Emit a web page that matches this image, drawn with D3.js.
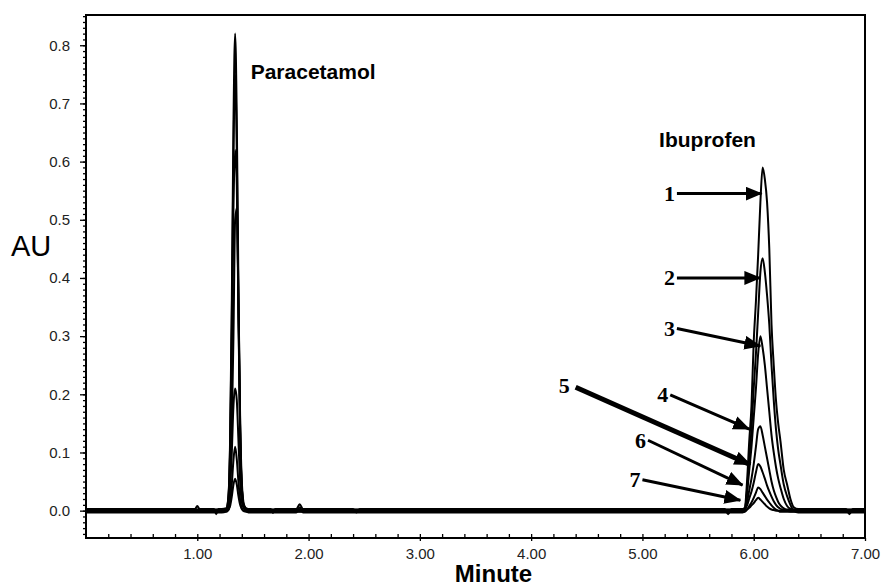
<!DOCTYPE html>
<html>
<head>
<meta charset="utf-8">
<script src="https://cdn.jsdelivr.net/npm/d3@7"></script>
<style>
  body { margin: 0; background: #fff; }
  svg { display: block; }
</style>
</head>
<body>
<script>
// retention time grid (minutes), shared by all seven chromatograms
const minutes = [
  0.00, 0.98, 1.00, 1.02, 1.15, 1.17, 1.19,
  1.22, 1.26, 1.28, 1.295, 1.31, 1.325, 1.34, 1.355, 1.37, 1.385, 1.40, 1.42, 1.46,
  1.66, 1.68, 1.70, 1.89, 1.92, 1.95, 2.40, 2.43, 2.46,
  5.74, 5.77, 5.80,
  5.90, 5.92, 5.94, 5.96, 5.98, 6.00, 6.02, 6.04, 6.06, 6.08, 6.10, 6.12, 6.14, 6.16, 6.18, 6.20, 6.22, 6.24, 6.27, 6.30, 6.33, 6.36, 6.40,
  6.83, 6.86, 6.89, 7.00
];

// absorbance (AU) for each run
const run1 = [
  0.003, 0.003, 0.008, 0.003, 0.003, -0.006, 0.003,
  0.003, 0.004, 0.025, 0.123, 0.353, 0.664, 0.820, 0.672, 0.377, 0.148, 0.041, 0.008, 0.003,
  0.003, -0.004, 0.003, 0.003, 0.011, 0.003, 0.003, -0.003, 0.003,
  0.003, -0.006, 0.003,
  0.003, 0.005, 0.050, 0.120, 0.180, 0.290, 0.360, 0.440, 0.530, 0.590, 0.570, 0.530, 0.450, 0.320, 0.250, 0.190, 0.150, 0.120, 0.070, 0.045, 0.020, 0.006, 0.003,
  0.003, -0.006, 0.003, 0.003
];
const run2 = [
  -0.003, -0.003, -0.003, -0.003, -0.003, -0.003, -0.003,
  -0.003, -0.001, 0.023, 0.113, 0.323, 0.608, 0.750, 0.615, 0.345, 0.135, 0.038, 0.004, -0.003,
  -0.003, -0.003, -0.003, -0.003, 0.006, -0.003, -0.003, -0.003, -0.003,
  -0.003, -0.003, -0.003,
  -0.003, -0.001, 0.035, 0.090, 0.140, 0.210, 0.270, 0.340, 0.410, 0.434, 0.410, 0.370, 0.320, 0.250, 0.190, 0.140, 0.105, 0.080, 0.045, 0.025, 0.010, 0.000, -0.003,
  -0.003, -0.003, -0.003, -0.003
];
const run3 = [
  0.0015, 0.0015, 0.0015, 0.0015, 0.0015, 0.0015, 0.0015,
  0.0015, 0.003, 0.022, 0.100, 0.280, 0.520, 0.620, 0.560, 0.330, 0.135, 0.040, 0.007, 0.0015,
  0.0015, 0.0015, 0.0015, 0.0015, 0.0015, 0.0015, 0.0015, 0.0015, 0.0015,
  0.0015, 0.0015, 0.0015,
  0.0015, 0.003, 0.030, 0.070, 0.110, 0.160, 0.210, 0.270, 0.300, 0.280, 0.250, 0.210, 0.170, 0.130, 0.100, 0.075, 0.055, 0.040, 0.020, 0.008, 0.003, 0.0015, 0.0015,
  0.0015, 0.0015, 0.0015, 0.0015
];
const run4 = [
  -0.0015, -0.0015, -0.0015, -0.0015, -0.0015, -0.0015, -0.0015,
  -0.0015, 0.000, 0.010, 0.050, 0.140, 0.300, 0.500, 0.520, 0.360, 0.160, 0.050, 0.010, -0.0015,
  -0.0015, -0.0015, -0.0015, -0.0015, -0.0015, -0.0015, -0.0015, -0.0015, -0.0015,
  -0.0015, -0.0015, -0.0015,
  -0.0015, 0.000, 0.015, 0.035, 0.055, 0.080, 0.110, 0.140, 0.145, 0.130, 0.110, 0.090, 0.070, 0.050, 0.035, 0.024, 0.015, 0.009, 0.004, 0.000, -0.0015, -0.0015, -0.0015,
  -0.0015, -0.0015, -0.0015, -0.0015
];
const run5 = [
  0.002, 0.002, 0.002, 0.002, 0.002, 0.002, 0.002,
  0.002, 0.002, 0.009, 0.040, 0.100, 0.180, 0.210, 0.190, 0.120, 0.050, 0.015, 0.004, 0.002,
  0.002, 0.002, 0.002, 0.002, 0.002, 0.002, 0.002, 0.002, 0.002,
  0.002, 0.002, 0.002,
  0.002, 0.003, 0.009, 0.021, 0.033, 0.048, 0.066, 0.080, 0.076, 0.066, 0.055, 0.043, 0.033, 0.024, 0.016, 0.010, 0.006, 0.003, 0.002, 0.002, 0.002, 0.002, 0.002,
  0.002, 0.002, 0.002, 0.002
];
const run6 = [
  -0.002, -0.002, -0.002, -0.002, -0.002, -0.002, -0.002,
  -0.002, -0.002, 0.001, 0.015, 0.045, 0.087, 0.110, 0.088, 0.049, 0.018, 0.004, -0.001, -0.002,
  -0.002, -0.002, -0.002, -0.002, -0.002, -0.002, -0.002, -0.002, -0.002,
  -0.002, -0.002, -0.002,
  -0.002, -0.002, 0.002, 0.008, 0.014, 0.022, 0.031, 0.040, 0.037, 0.031, 0.025, 0.019, 0.014, 0.009, 0.005, 0.002, 0.000, -0.002, -0.002, -0.002, -0.002, -0.002, -0.002,
  -0.002, -0.002, -0.002, -0.002
];
const run7 = [
  0, 0, 0, 0, 0, 0, 0,
  0, 0, 0.002, 0.008, 0.024, 0.045, 0.055, 0.045, 0.025, 0.010, 0.003, 0, 0,
  0, 0, 0, 0, 0, 0, 0, 0, 0,
  0, 0, 0,
  0, 0, 0.002, 0.005, 0.009, 0.013, 0.018, 0.022, 0.019, 0.015, 0.011, 0.007, 0.004, 0.002, 0.001, 0, 0, 0, 0, 0, 0, 0, 0,
  0, 0, 0, 0
];

const xTicks = [1, 2, 3, 4, 5, 6, 7];
const yTicks = [0, 0.1, 0.2, 0.3, 0.4, 0.5, 0.6, 0.7, 0.8];

// numbered arrows pointing at the ibuprofen peaks: [minute, AU]
const arrowNames = ["1", "2", "3", "4", "5", "6", "7"];
const arrowStart = [[5.31, 0.545], [5.31, 0.400], [5.31, 0.313], [5.25, 0.199], [4.40, 0.212], [5.05, 0.121], [5.00, 0.053]];
const arrowEnd   = [[6.07, 0.545], [6.06, 0.400], [6.06, 0.283], [5.96, 0.140], [5.97, 0.079], [5.90, 0.044], [5.88, 0.018]];

const peakNames = ["Paracetamol", "Ibuprofen"];
const peakLabelAt = [[1.48, 0.742], [5.15, 0.625]];

const width = 884, height = 587;
const margin = {top: 15, right: 19, bottom: 49, left: 86};

const svg = d3.select("body").append("svg")
  .attr("width", width)
  .attr("height", height)
  .style("font-family", "'Liberation Sans', Arial, sans-serif");

const x = d3.scaleLinear().domain([0, 7]).range([margin.left, width - margin.right]);
const y = d3.scaleLinear().domain([-0.047, 0.852]).range([height - margin.bottom, margin.top]);

const runs = [run1, run2, run3, run4, run5, run6, run7];

const line = d3.line()
  .x(d => x(d[0]))
  .y(d => y(d[1]))
  .curve(d3.curveMonotoneX);

svg.append("g")
  .selectAll("path")
  .data(runs.map(r => d3.zip(minutes, r)))
  .join("path")
  .attr("d", line)
  .attr("fill", "none")
  .attr("stroke", "#000")
  .attr("stroke-width", 2)
  .attr("stroke-linejoin", "round");

// frame
svg.append("rect")
  .attr("x", x(0)).attr("y", y(0.852))
  .attr("width", x(7) - x(0)).attr("height", y(-0.047) - y(0.852))
  .attr("fill", "none").attr("stroke", "#000").attr("stroke-width", 2);

// y axis, major + minor ticks
const yMinor = svg.append("g")
  .attr("transform", `translate(${x(0)},0)`)
  .call(d3.axisLeft(y).tickValues(d3.range(-0.04, 0.855, 0.01)).tickSize(3).tickFormat(""));
yMinor.select(".domain").remove();

const yAxis = svg.append("g")
  .attr("transform", `translate(${x(0)},0)`)
  .call(d3.axisLeft(y).tickValues(yTicks).tickSize(6).tickPadding(10).tickFormat(d3.format(".1f")));
yAxis.select(".domain").remove();
yAxis.selectAll("text").style("font-size", "15px").attr("fill", "#222");
svg.selectAll(".tick line").attr("stroke-width", 1.3);

// x axis
const xMinor = svg.append("g")
  .attr("transform", `translate(0,${y(-0.047)})`)
  .call(d3.axisBottom(x).tickValues(d3.range(0.2, 7, 0.2)).tickSize(-4).tickFormat(""));
xMinor.select(".domain").remove();
xMinor.selectAll("line").attr("stroke-width", 1.3);

const xAxis = svg.append("g")
  .attr("transform", `translate(0,${y(-0.047)})`)
  .call(d3.axisBottom(x).tickValues(xTicks).tickSize(3).tickPadding(7).tickFormat(d3.format(".2f")));
xAxis.select(".domain").remove();
xAxis.selectAll("line").attr("stroke-width", 1.3);
xAxis.selectAll("text").style("font-size", "15px").attr("fill", "#222");

// axis titles
svg.append("text")
  .attr("x", 11).attr("y", 256)
  .style("font-size", "29px")
  .text("AU");

svg.append("text")
  .attr("x", (x(0) + x(7)) / 2 + 18).attr("y", 582)
  .attr("text-anchor", "middle")
  .style("font-size", "24px").style("font-weight", "bold")
  .text("Minute");

// peak names
svg.append("g")
  .selectAll("text")
  .data(peakNames)
  .join("text")
  .attr("x", (d, i) => x(peakLabelAt[i][0]))
  .attr("y", (d, i) => y(peakLabelAt[i][1]))
  .style("font-size", "21px").style("font-weight", "bold")
  .text(d => d);

// arrows
svg.append("defs").append("marker")
  .attr("id", "head")
  .attr("markerUnits", "userSpaceOnUse")
  .attr("markerWidth", 17).attr("markerHeight", 14)
  .attr("refX", 16).attr("refY", 7)
  .attr("orient", "auto")
  .append("path")
  .attr("d", "M0,0 L17,7 L0,14 Z")
  .attr("fill", "#000");

const arrows = svg.append("g")
  .selectAll("g")
  .data(arrowNames)
  .join("g");

arrows.append("line")
  .attr("x1", (d, i) => x(arrowStart[i][0]))
  .attr("y1", (d, i) => y(arrowStart[i][1]))
  .attr("x2", (d, i) => x(arrowEnd[i][0]))
  .attr("y2", (d, i) => y(arrowEnd[i][1]))
  .attr("stroke", "#000")
  .attr("stroke-width", d => d === "5" ? 5 : 3)
  .attr("marker-end", "url(#head)");

arrows.append("text")
  .attr("x", (d, i) => x(arrowStart[i][0]) - (d === "5" ? 6 : 2))
  .attr("y", (d, i) => y(arrowStart[i][1]) - (d === "5" ? 2 : 0))
  .attr("text-anchor", "end")
  .attr("dominant-baseline", "central")
  .style("font-family", "'Liberation Serif', 'Times New Roman', serif")
  .style("font-size", "22px").style("font-weight", "bold")
  .text(d => d);
</script>
</body>
</html>
